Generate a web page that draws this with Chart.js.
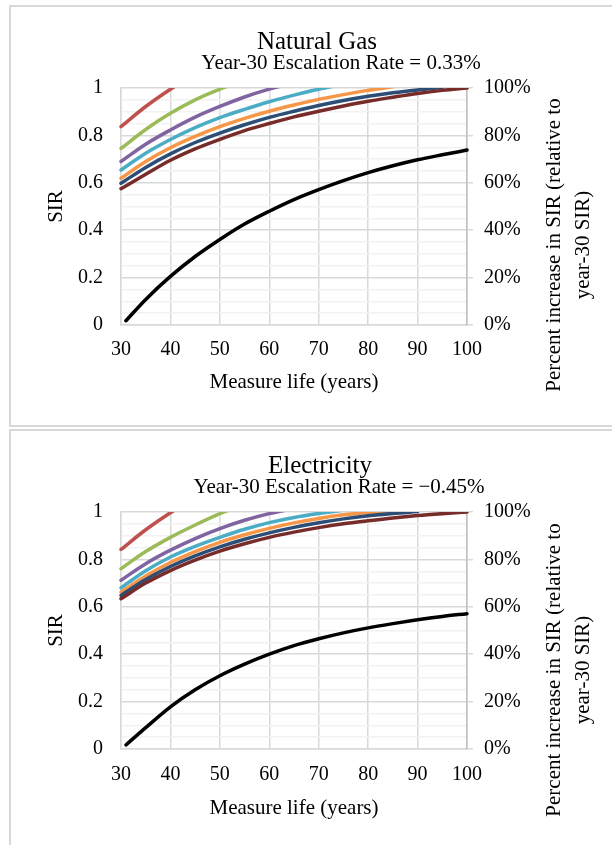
<!DOCTYPE html>
<html>
<head>
<meta charset="utf-8">
<script src="https://cdn.jsdelivr.net/npm/chart.js@4/dist/chart.umd.min.js"></script>
<style>
  html, body { margin: 0; padding: 0; background: #fff; width: 612px; height: 845px; overflow: hidden; }
  .box { position: absolute; left: 9px; width: 700px; border: 2px solid #d9d9d9; border-right: none; box-sizing: border-box; }
  #box1 { top: 5px; height: 422px; }
  #box2 { top: 429px; height: 500px; border-bottom: none; }
  canvas { position: absolute; left: 0; }
  #c1 { top: 5px; }
  #c2 { top: 429px; }
</style>
</head>
<body>
<div class="box" id="box1"></div>
<div class="box" id="box2"></div>
<canvas id="c1" width="612" height="422"></canvas>
<canvas id="c2" width="612" height="422"></canvas>
<script>
// ---- Data ----
const years = [30, 35, 40, 45, 50, 55, 60, 65, 70, 75, 80, 85, 90, 95, 100];
const pctYears = [31, 35, 40, 45, 50, 55, 60, 65, 70, 75, 80, 85, 90, 95, 100];
const sirTickLabels = ['0', '0.2', '0.4', '0.6', '0.8', '1'];
const pctTickLabels = ['0%', '20%', '40%', '60%', '80%', '100%'];

// Natural Gas
const gasRed      = [0.837, 0.922, 0.995, 1.060, null, null, null, null, null, null, null, null, null, null, null];
const gasGreen    = [0.745, 0.825, 0.893, 0.950, 0.995, 1.035, null, null, null, null, null, null, null, null, null];
const gasPurple   = [0.690, 0.763, 0.823, 0.877, 0.922, 0.962, 0.995, 1.022, null, null, null, null, null, null, null];
const gasCyan     = [0.654, 0.725, 0.783, 0.833, 0.875, 0.910, 0.942, 0.970, 0.995, 1.015, null, null, null, null, null];
const gasOrange   = [0.619, 0.690, 0.748, 0.796, 0.837, 0.872, 0.902, 0.928, 0.952, 0.972, 0.990, 1.005, null, null, null];
const gasDarkBlue = [0.598, 0.665, 0.722, 0.770, 0.810, 0.845, 0.876, 0.902, 0.926, 0.947, 0.965, 0.980, 0.992, 1.002, null];
const gasDarkRed  = [0.575, 0.636, 0.695, 0.743, 0.783, 0.820, 0.850, 0.878, 0.902, 0.924, 0.944, 0.961, 0.977, 0.990, 1.000];
const gasPct      = [0.018, 0.108, 0.205, 0.289, 0.361, 0.426, 0.480, 0.529, 0.571, 0.609, 0.643, 0.672, 0.697, 0.718, 0.738];

// Electricity
const elRed      = [0.842, 0.925, 0.997, 1.060, null, null, null, null, null, null, null, null, null, null, null];
const elGreen    = [0.761, 0.833, 0.893, 0.945, 0.993, 1.033, null, null, null, null, null, null, null, null, null];
const elPurple   = [0.712, 0.782, 0.839, 0.888, 0.930, 0.965, 0.993, 1.015, null, null, null, null, null, null, null];
const elCyan     = [0.680, 0.752, 0.810, 0.855, 0.893, 0.927, 0.955, 0.977, 0.994, 1.008, null, null, null, null, null];
const elOrange   = [0.662, 0.730, 0.787, 0.833, 0.872, 0.904, 0.931, 0.954, 0.973, 0.988, 0.998, 1.006, null, null, null];
const elDarkBlue = [0.648, 0.715, 0.770, 0.815, 0.853, 0.885, 0.912, 0.935, 0.955, 0.971, 0.984, 0.994, 1.002, null, null];
const elDarkRed  = [0.634, 0.700, 0.753, 0.797, 0.835, 0.866, 0.893, 0.915, 0.934, 0.950, 0.963, 0.975, 0.985, 0.993, 1.000];
const elPct      = [0.017, 0.090, 0.178, 0.250, 0.309, 0.358, 0.400, 0.436, 0.465, 0.490, 0.511, 0.529, 0.545, 0.559, 0.571];

const COLORS = {
  red: '#C0504D', green: '#9BBB59', purple: '#8064A2', cyan: '#4BACC6',
  orange: '#F79646', darkBlue: '#2C4D75', darkRed: '#772C2A', black: '#000000'
};
const FONT = '"Liberation Serif", "Times New Roman", serif';

function pts(xs, ys) {
  const out = [];
  for (let i = 0; i < xs.length; i++) out.push({ x: xs[i], y: ys[i] });
  return out;
}
function isMajor(v) { return Math.abs(v * 5 - Math.round(v * 5)) < 1e-6; }

const titlePlugin = {
  id: 'chartTitles',
  afterDraw(chart, args, o) {
    const ctx = chart.ctx;
    ctx.save();
    ctx.fillStyle = '#000';
    ctx.textAlign = 'center';
    ctx.textBaseline = 'alphabetic';
    ctx.font = '25px ' + FONT;
    ctx.fillText(o.title, o.titleX, o.titleY);
    ctx.font = '21px ' + FONT;
    ctx.fillText(o.subtitle, o.subX, o.subY);
    // right axis title, rotated reading bottom-to-top
    ctx.textBaseline = 'middle';
    ctx.font = '21px ' + FONT;
    for (let i = 0; i < o.rightLines.length; i++) {
      ctx.save();
      ctx.translate(o.rightX[i], o.rightY);
      ctx.rotate(-Math.PI / 2);
      ctx.fillText(o.rightLines[i], 0, 0);
      ctx.restore();
    }
    ctx.restore();
  }
};

function makeChart(id, s, titles) {
  const line = (label, data, color, xs, axis) => ({
    label, data: pts(xs || years, data), borderColor: color, backgroundColor: color,
    borderWidth: 3.5, pointRadius: 0, pointHoverRadius: 0,
    cubicInterpolationMode: 'monotone', borderCapStyle: 'round', borderJoinStyle: 'round',
    spanGaps: false, yAxisID: axis || 'y', clip: { left: 2, top: 0, right: 2, bottom: 2 }
  });
  return new Chart(document.getElementById(id), {
    type: 'line',
    data: {
      datasets: [
        line('Series 8', s.darkRed, COLORS.darkRed),
        line('Series 7', s.darkBlue, COLORS.darkBlue),
        line('Series 6', s.orange, COLORS.orange),
        line('Series 5', s.cyan, COLORS.cyan),
        line('Series 4', s.purple, COLORS.purple),
        line('Series 3', s.green, COLORS.green),
        line('Series 2', s.red, COLORS.red),
        line('Percent increase', s.pct, COLORS.black, pctYears, 'y2')
      ]
    },
    options: {
      responsive: false,
      animation: false,
      devicePixelRatio: 1,
      layout: { padding: { top: 83, left: 0, right: 0, bottom: 0 } },
      plugins: {
        legend: { display: false },
        tooltip: { enabled: false },
        chartTitles: titles
      },
      scales: {
        x: {
          type: 'linear', min: 30, max: 100,
          ticks: { stepSize: 10, padding: titles.xTickPad, color: '#000', font: { family: FONT, size: 20 }, maxRotation: 0, autoSkip: false },
          grid: { color: '#d9d9d9', lineWidth: 1.5, drawTicks: false },
          border: { color: '#d9d9d9', width: 1.5 },
          title: { display: true, text: 'Measure life (years)', color: '#000',
                   font: { family: FONT, size: 21, lineHeight: 1.2 },
                   padding: { top: 0, bottom: titles.xTitleOffset - 12.6 } },
          afterFit: (sc) => { sc.height = 102; }
        },
        y: {
          type: 'linear', position: 'left', min: 0, max: 1,
          ticks: {
            stepSize: 0.05, autoSkip: false, padding: 18, color: '#000',
            font: { family: FONT, size: 20 },
            callback: (v) => isMajor(v) ? sirTickLabels[Math.round(v * 5)] : ''
          },
          grid: {
            drawTicks: false, lineWidth: 1.5,
            color: (c) => (c.tick && isMajor(c.tick.value)) ? '#d9d9d9' : '#f2f2f2'
          },
          border: { color: '#d9d9d9', width: 1.5 },
          title: { display: true, text: 'SIR', color: '#000',
                   font: { family: FONT, size: 21, lineHeight: 1.2 },
                   padding: { top: 56 - 12.6, bottom: 0 } },
          afterFit: (sc) => { sc.width = 121; }
        },
        y2: {
          type: 'linear', position: 'right', min: 0, max: 1,
          ticks: {
            stepSize: 0.2, autoSkip: false, padding: 11, color: '#000',
            font: { family: FONT, size: 20 },
            callback: (v) => pctTickLabels[Math.round(v * 5)]
          },
          grid: { drawOnChartArea: false, drawTicks: true, tickLength: 6, color: '#d9d9d9', lineWidth: 1.5 },
          border: { color: '#bfbfbf', width: 1.5 },
          afterFit: (sc) => { sc.width = 145; }
        }
      }
    },
    plugins: [titlePlugin]
  });
}

makeChart('c1', {
  red: gasRed, green: gasGreen, purple: gasPurple, cyan: gasCyan,
  orange: gasOrange, darkBlue: gasDarkBlue, darkRed: gasDarkRed, pct: gasPct
}, {
  title: 'Natural Gas', titleX: 317, titleY: 44,
  subtitle: 'Year-30 Escalation Rate = 0.33%', subX: 341, subY: 64,
  rightLines: ['Percent increase in SIR (relative to', 'year-30 SIR)'],
  rightX: [554, 583], rightY: 240, xTickPad: 13, xTitleOffset: 45
});

makeChart('c2', {
  red: elRed, green: elGreen, purple: elPurple, cyan: elCyan,
  orange: elOrange, darkBlue: elDarkBlue, darkRed: elDarkRed, pct: elPct
}, {
  title: 'Electricity', titleX: 320, titleY: 44,
  subtitle: 'Year-30 Escalation Rate = \u22120.45%', subX: 339, subY: 64,
  rightLines: ['Percent increase in SIR (relative to', 'year-30 SIR)'],
  rightX: [554, 583], rightY: 241, xTickPad: 14, xTitleOffset: 43
});
</script>
</body>
</html>
